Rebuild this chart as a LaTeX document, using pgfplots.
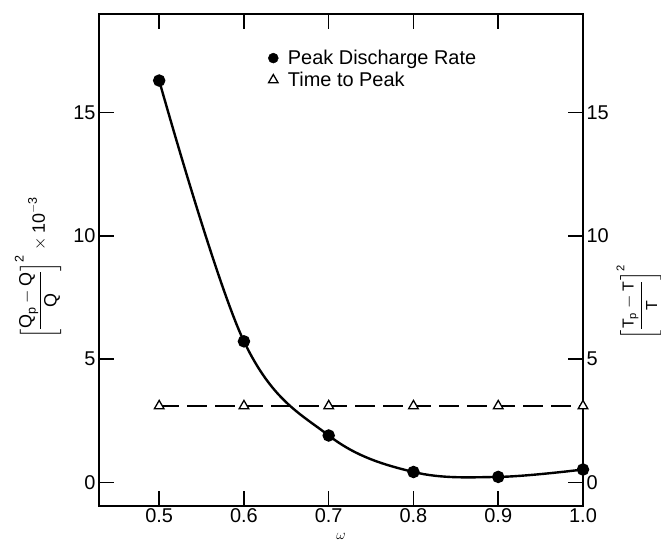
\documentclass[border=0pt]{standalone}
\usepackage{amsmath}
\usepackage{fontspec}
\setmainfont{Liberation Sans}
\usepackage{pgfplots}
\pgfplotsset{compat=1.18}

% Squared relative error of the peak discharge rate (x 10^-3)
\pgfplotstableread{
w      err
0.5    16.3
0.6    5.72
0.7    1.90
0.8    0.42
0.9    0.22
1.0    0.52
}\peakrate

% Squared relative error of the time to peak
\pgfplotstableread{
w      err
0.5    3.1
0.6    3.1
0.7    3.1
0.8    3.1
0.9    3.1
1.0    3.1
}\peaktime

\pgfplotsset{
  common/.style={
    width=484bp, height=492bp, scale only axis,
    xmin=0.429, xmax=1.0, ymin=-0.96, ymax=19.0,
    ytick={0,5,10,15},
    tick align=inside,
    major tick length=15bp,
    axis line style={line width=1.8bp},
    every tick/.style={black, line width=1.5bp},
    tick label style={font=\fontsize{20}{24}\selectfont},
    /pgf/number format/assume math mode=true,
  },
  % legend symbol only, with room after it before the entry text
  markonly/.style={legend image code/.code={%
    \path (-6bp,0) (12bp,0);
    \draw[##1] plot coordinates {(0,0)};}},
}

\begin{document}
\begin{tikzpicture}
\begin{axis}[
  common,
  name=main,
  xtick={0.5,0.6,0.7,0.8,0.9,1.0},
  xticklabels={0.5,0.6,0.7,0.8,0.9,1.0},
  xtick pos=both, xticklabel pos=lower,
  xticklabel style={yshift=-1bp, inner sep=1bp},
  ytick pos=left,
  xlabel={$\omega$},
  x label style={at={(axis description cs:0.5,-0.0625)}, anchor=center, inner sep=0pt, font=\fontsize{15}{16}\selectfont},
  ylabel={$\left[\dfrac{\text{Q}_{\text{p}}-\text{Q}}{\text{Q}}\right]^{\text{2}}\times\text{10}^{-\text{3}}$},
  y label style={at={(axis description cs:-0.126,0.484)}, anchor=center, font=\fontsize{18}{20}\selectfont},
  legend style={draw=none, fill=none, at={(axis description cs:0.346,0.931)}, anchor=north west,
    font=\fontsize{20}{22}\selectfont, row sep=2bp, inner sep=0pt},
  legend cell align=left,
]
\addlegendimage{markonly, only marks, mark=*, mark size=5bp, black}
\addlegendentry{Peak Discharge Rate}
\addlegendimage{markonly, only marks, mark=triangle, mark size=5.5bp, black, line width=1.3bp, mark options={fill=white}}
\addlegendentry{Time to Peak}

\addplot[black, line width=2.4bp, smooth, tension=0.6, mark=*, mark size=5bp] table[x=w, y=err] {\peakrate};
\end{axis}

\begin{axis}[
  common,
  hide x axis,
  axis y line*=right,
  ylabel={$\left[\dfrac{\text{T}_{\text{p}}-\text{T}}{\text{T}}\right]^{\text{2}}$},
  y label style={at={(axis description cs:1.116,0.415)}, anchor=center, font=\fontsize{16}{18}\selectfont},
]
\addplot[black, line width=1.8bp, dash pattern=on 20bp off 8bp,
  mark=triangle*, mark size=5.5bp, mark options={solid, fill=white, line width=1.3bp}]
  table[x=w, y=err] {\peaktime};
\end{axis}

\pgfresetboundingbox
\path[use as bounding box] ([shift={(-99bp,-36bp)}]main.south west) rectangle ([shift={(78bp,14bp)}]main.north east);
\end{tikzpicture}
\end{document}
